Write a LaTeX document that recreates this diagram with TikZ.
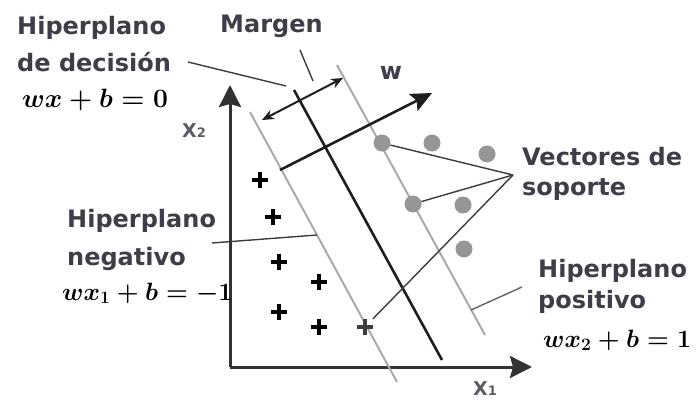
\RequirePackage{fix-cm}
\documentclass[tikz,border=0pt]{standalone}
\usepackage[no-math]{fontspec}
\usepackage{amsmath}
\newfontfamily\lab{DejaVu Sans}
\usetikzlibrary{arrows.meta}
\definecolor{txtc}{RGB}{62,62,72}
\definecolor{axc}{RGB}{50,50,50}
\definecolor{decc}{RGB}{30,30,30}
\definecolor{hypc}{RGB}{170,170,170}
\definecolor{svc}{RGB}{150,150,150}
\definecolor{leadc}{RGB}{60,60,60}
\begin{document}
\begin{tikzpicture}[x=1pt,y=-1pt,
  lbl/.style={font=\lab\bfseries\fontsize{24}{28}\selectfont, text=txtc, inner sep=0, anchor=base west},
  axlbl/.style={font=\lab\bfseries\fontsize{19}{24}\selectfont, text=txtc!85, inner sep=0, anchor=base west},
  eq/.style={font=\fontsize{25}{30}\selectfont\boldmath, inner sep=0, anchor=base west},
  axisline/.style={line width=3pt, draw=axc, -{Stealth[length=22pt,width=22pt,inset=3pt]}},
  decline/.style={line width=2.6pt, draw=decc},
  hypline/.style={line width=2pt, draw=hypc},
  lead/.style={line width=1.4pt, draw=leadc},
  sv/.style={circle, fill=svc, minimum size=17pt, inner sep=0},
  plusn/.style={minimum size=16pt, inner sep=0},
  plusline/.style={line width=3.2pt}
]
\useasboundingbox (0,0) rectangle (697,404);

% axes
\coordinate (O) at (230,367);
\coordinate (ytip) at (230,85);
\coordinate (xtip) at (532,367);
\draw[axisline] (O) -- (ytip);
\draw[axisline] (O) -- (xtip);
\node[axlbl] (x2) at (182,137) {X{\fontsize{13}{16}\selectfont 2}};
\node[axlbl] (x1) at (473,395) {X{\fontsize{13}{16}\selectfont 1}};

% hyperplanes
\coordinate (nA) at (250,112); \coordinate (nB) at (397,382);
\coordinate (dA) at (294,90);  \coordinate (dB) at (442,360);
\coordinate (pA) at (337,65);  \coordinate (pB) at (485,335);
\draw[hypline] (nA) -- (nB);
\draw[hypline] (pA) -- (pB);
\draw[decline] (dA) -- (dB);

% margin arrow and w
\coordinate (mA) at (262,120); \coordinate (mB) at (343,78);
\draw[line width=2pt, draw=decc, {Stealth[length=12pt,width=10pt]}-{Stealth[length=12pt,width=10pt]}] (mA) -- (mB);
\coordinate (wA) at (280,170); \coordinate (wB) at (432,93);
\draw[line width=2.6pt, draw=decc, -{Stealth[length=21pt,width=19pt,inset=4pt]}] (wA) -- (wB);
\node[font=\lab\bfseries\fontsize{24}{28}\selectfont, text=txtc, inner sep=0, anchor=base] (wl) at (391,80) {w};

% support vectors
\node[sv] (s1) at (382,143) {};
\node[sv] (s2) at (432,143) {};
\node[sv] (s3) at (487,154) {};
\node[sv] (s4) at (413,204) {};
\node[sv] (s5) at (463,205) {};
\node[sv] (s6) at (464,249) {};

% pluses
\node[plusn] (q1) at (260,180) {};
\node[plusn] (q2) at (273,217) {};
\node[plusn] (q3) at (279,262) {};
\node[plusn] (q4) at (319,282) {};
\node[plusn] (q5) at (279,312) {};
\node[plusn] (q6) at (319,327) {};
\node[plusn] (q7) at (365,327) {};
\foreach \q in {q1,q2,q3,q4,q5,q6}
  \draw[plusline] (\q.west) -- (\q.east) (\q.north) -- (\q.south);
\draw[plusline, draw=leadc] (q7.west) -- (q7.east) (q7.north) -- (q7.south);

% support vector leaders
\coordinate (hub) at (513,175);
\draw[lead] (s1) -- (hub);
\draw[lead] (s4) -- (hub);
\draw[lead] (q7) -- (hub);

% text labels
\node[lbl] (t1) at (17,35) {Hiperplano};
\node[lbl] (t2) at (17,72) {de decisión};
\node[eq, font=\fontsize{26.5}{30}\selectfont\boldmath] (e0) at (22,108) {$wx+b=0$};
\node[lbl] (tm) at (220,33) {Margen};
\node[lbl] (tv1) at (522,165) {Vectores de};
\node[lbl] (tv2) at (522,195) {soporte};
\node[lbl] (tn1) at (67,227) {Hiperplano};
\node[lbl] (tn2) at (67,265) {negativo};
\node[eq] (e1) at (62,300) {$wx_1+b=-1$};
\node[lbl] (tp1) at (538,277) {Hiperplano};
\node[lbl] (tp2) at (538,308) {positivo};
\node[eq] (e2) at (543,347) {$wx_2+b=1$};

% label leaders
\coordinate (ld1) at (188,62); \coordinate (ld2) at (286,86);
\draw[lead] (ld1) -- (ld2);
\coordinate (lm1) at (300,50); \coordinate (lm2) at (313,81);
\draw[lead] (lm1) -- (lm2);
\coordinate (ln1) at (212,243); \coordinate (ln2) at (317,235);
\draw[lead] (ln1) -- (ln2);
\coordinate (lp1) at (522,287); \coordinate (lp2) at (471,310);
\draw[lead, draw=leadc!80] (lp1) -- (lp2);
\end{tikzpicture}
\end{document}
